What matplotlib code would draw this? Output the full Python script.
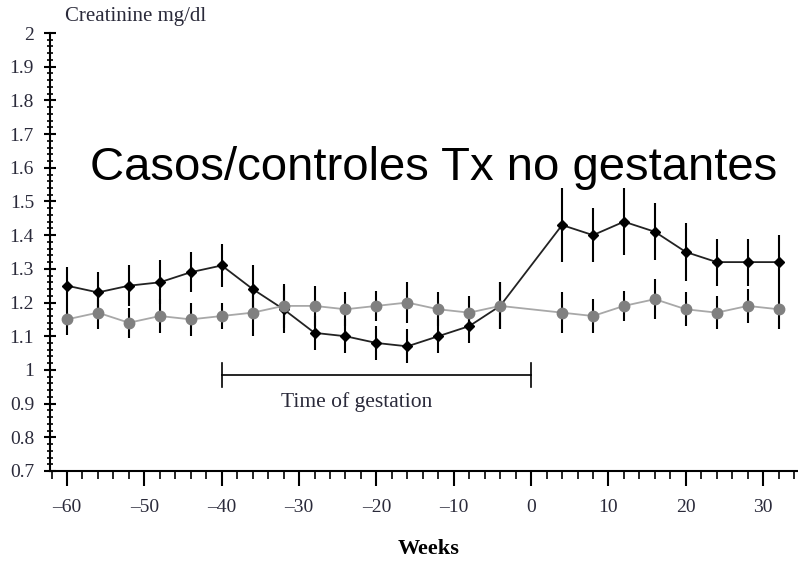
import matplotlib
matplotlib.use("Agg")
import matplotlib.pyplot as plt
from matplotlib.ticker import MultipleLocator, FuncFormatter

weeks = [-60, -56, -52, -48, -44, -40, -36, -32, -28, -24, -20, -16, -12, -8, -4,
         4, 8, 12, 16, 20, 24, 28, 32]
cases = [1.25, 1.23, 1.25, 1.26, 1.29, 1.31, 1.24, 1.18, 1.11, 1.10, 1.08, 1.07, 1.10, 1.13, 1.19,
         1.43, 1.40, 1.44, 1.41, 1.35, 1.32, 1.32, 1.32]
cases_err = [0.055, 0.06, 0.06, 0.065, 0.06, 0.065, 0.07, 0.07, 0.05, 0.05, 0.05, 0.05, 0.05, 0.05, 0.07,
             0.11, 0.08, 0.10, 0.085, 0.085, 0.07, 0.07, 0.08]
controls = [1.15, 1.17, 1.14, 1.16, 1.15, 1.16, 1.17, 1.19, 1.19, 1.18, 1.19, 1.20, 1.18, 1.17, 1.19,
            1.17, 1.16, 1.19, 1.21, 1.18, 1.17, 1.19, 1.18]
controls_err = [0.045, 0.05, 0.045, 0.05, 0.05, 0.04, 0.07, 0.065, 0.06, 0.05, 0.045, 0.06, 0.05, 0.05, 0.07,
                0.06, 0.05, 0.045, 0.06, 0.05, 0.05, 0.05, 0.06]
gestation = [-40, 0]

serif = ["Liberation Serif", "DejaVu Serif"]
txtcol = "#2a2a3a"

fig = plt.figure(figsize=(7.98, 5.63), dpi=100)
ax = fig.add_axes([50/798, 1-471/563, 1-50/798, (471-33)/563])

ax.errorbar(weeks, cases, yerr=cases_err, fmt='none', ecolor='black', elinewidth=1.5, zorder=2)
ax.errorbar(weeks, controls, yerr=controls_err, fmt='none', ecolor='black', elinewidth=1.5, zorder=2)
ax.plot(weeks, cases, color='#222222', lw=1.3, marker='D', ms=5, mfc='black', mec='black', zorder=3)
ax.plot(weeks, controls, color='#a8a8a8', lw=1.3, marker='o', ms=7.5, mfc='#808080', mec='#808080', zorder=4)

# gestation bracket
ax.plot(gestation, [0.985, 0.985], color='black', lw=1.2)
for g in gestation:
    ax.plot([g, g], [0.95, 1.022], color='black', lw=1.2)
ax.text(-22.5, 0.905, "Time of gestation", ha='center', va='center',
        fontsize=15.5, family=serif, color=txtcol)

ax.set_xlim(-62.2, 34.5)
ax.set_ylim(0.7, 2.0)
for s in ['top', 'right']:
    ax.spines[s].set_visible(False)
ax.xaxis.set_major_locator(MultipleLocator(10))
ax.xaxis.set_minor_locator(MultipleLocator(2))
ax.yaxis.set_major_locator(MultipleLocator(0.1))
ax.yaxis.set_minor_locator(MultipleLocator(0.02))
ax.yaxis.set_major_formatter(FuncFormatter(lambda v, p: f"{v:.1f}".rstrip('0').rstrip('.')))
ax.xaxis.set_major_formatter(FuncFormatter(lambda v, p: f"{int(round(v))}".replace('-', '\u2013')))
ax.tick_params(axis='x', which='major', direction='out', length=11, width=1.5, pad=9)
ax.tick_params(axis='x', which='minor', direction='out', length=6, width=1.2)
ax.tick_params(axis='y', which='major', direction='inout', length=9, width=1.5, pad=7)
ax.tick_params(axis='y', which='minor', direction='inout', length=5, width=1.2)
for lab in ax.get_xticklabels() + ax.get_yticklabels():
    lab.set_fontfamily(serif)
    lab.set_fontsize(14)
    lab.set_color(txtcol)
ax.spines['left'].set_linewidth(1.5)
ax.spines['bottom'].set_linewidth(1.5)

fig.text(65/798, 1-17/563, "Creatinine mg/dl", ha='left', va='center', fontsize=15,
         family=serif, color=txtcol)
fig.text(429/798, 1-549/563, "Weeks", ha='center', va='center', fontsize=16,
         family=serif, fontweight='bold', color='black')
fig.text(434/798, 1-180/563, "Casos/controles Tx no gestantes", ha='center', va='baseline',
         fontsize=34, family=["Liberation Sans", "DejaVu Sans"], color='black')

fig.savefig("out.png", dpi=100)
